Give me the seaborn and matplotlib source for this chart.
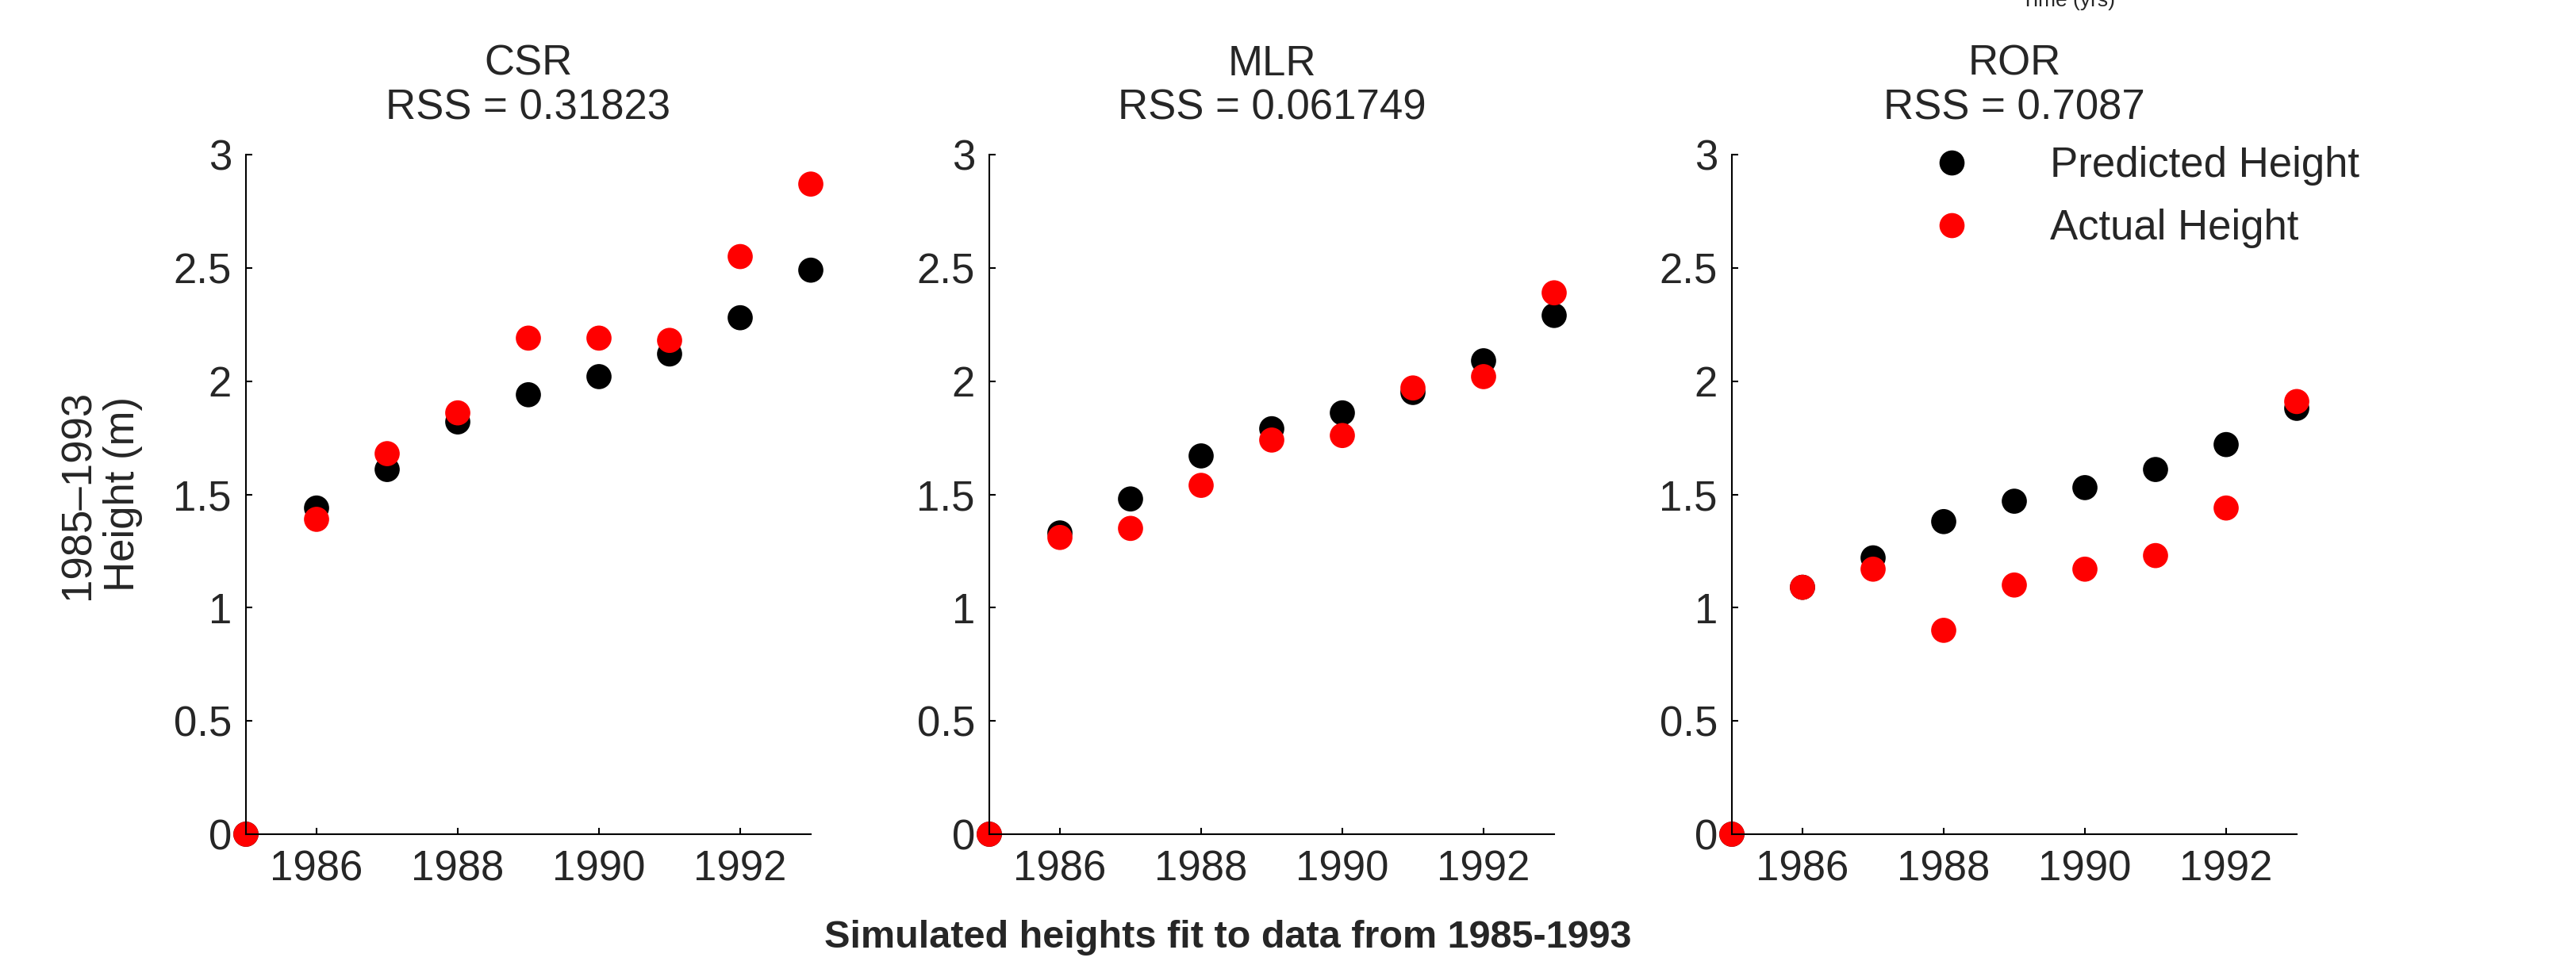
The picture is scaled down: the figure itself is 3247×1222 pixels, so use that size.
import numpy as np
import pandas as pd
import seaborn as sns
import matplotlib.pyplot as plt
from matplotlib import font_manager
from matplotlib.ticker import FuncFormatter
from matplotlib.lines import Line2D

years = [1985, 1986, 1987, 1988, 1989, 1990, 1991, 1992, 1993]
models = ["CSR", "MLR", "ROR"]
rss = ["0.31823", "0.061749", "0.7087"]

# predicted / actual heights (m) per model
csr_pred = [0.0, 1.44, 1.61, 1.82, 1.94, 2.02, 2.12, 2.28, 2.49]
csr_act = [0.0, 1.39, 1.68, 1.86, 2.19, 2.19, 2.18, 2.55, 2.87]
mlr_pred = [0.0, 1.33, 1.48, 1.67, 1.79, 1.86, 1.95, 2.09, 2.29]
mlr_act = [0.0, 1.31, 1.35, 1.54, 1.74, 1.76, 1.97, 2.02, 2.39]
ror_pred = [0.0, 1.09, 1.22, 1.38, 1.47, 1.53, 1.61, 1.72, 1.88]
ror_act = [0.0, 1.09, 1.17, 0.90, 1.10, 1.17, 1.23, 1.44, 1.91]

series_names = ["Predicted Height", "Actual Height"]
xticks = [1986, 1988, 1990, 1992]
yticks = [0, 0.5, 1, 1.5, 2, 2.5, 3]

sns.set_style("ticks")
plt.rcParams['font.family'] = ['Liberation Sans', 'DejaVu Sans']
plt.rcParams['axes.linewidth'] = 1.5

FS = 38
DOT = 520
W, H = 3247, 1222
fig = plt.figure(figsize=(W / 100, H / 100), dpi=100)

lefts = [310, 1247, 2183]
ax_w, ax_top, ax_bot = 712, 195, 1052
data = [(csr_pred, csr_act), (mlr_pred, mlr_act), (ror_pred, ror_act)]

axes = []
for i, (pred, act) in enumerate(data):
    ax = fig.add_axes([lefts[i] / W, 1 - ax_bot / H, ax_w / W, (ax_bot - ax_top) / H])
    df = pd.DataFrame({
        "year": years + years,
        "height": pred + act,
        "series": [series_names[0]] * len(years) + [series_names[1]] * len(years),
    })
    sns.scatterplot(data=df, x="year", y="height", hue="series",
                    palette={series_names[0]: "black", series_names[1]: "red"},
                    s=DOT, linewidth=0, ax=ax, legend=(i == 2), clip_on=False)
    ax.set_xlim(1985, 1993)
    ax.set_ylim(0, 3)
    ax.set_xticks(xticks)
    ax.set_yticks(yticks)
    ax.yaxis.set_major_formatter(FuncFormatter(lambda v, p: f"{v:g}"))
    ax.tick_params(direction="in", length=6, width=1.5, labelsize=FS, color="black")
    ax.tick_params(axis="y", pad=13)
    ax.tick_params(axis="x", pad=14)
    sns.despine(ax=ax)
    for sp in ax.spines.values():
        sp.set_color("black")
    ax.set_xlabel("")
    ax.set_ylabel("")
    ax.set_title(f"{models[i]}\nRSS = {rss[i]}", fontsize=FS, pad=32, linespacing=1.15)
    axes.append(ax)

axes[0].set_ylabel("1985\u20131993\nHeight (m)", fontsize=FS, labelpad=28, linespacing=1.15)

# legend in the last panel
leg = axes[2].get_legend()
handles = leg.legend_handles
labels = [t.get_text() for t in leg.get_texts()]
for h in handles:
    if isinstance(h, Line2D):
        h.set_markersize(np.sqrt(DOT))
        h.set_markeredgewidth(0)
    elif hasattr(h, "set_sizes"):
        h.set_sizes([DOT])
axes[2].legend(handles=handles, labels=labels, loc="upper left",
               bbox_to_anchor=(2434 / W, 1 - 184 / H), bbox_transform=fig.transFigure,
               frameon=False, fontsize=FS, handlelength=1.0, handletextpad=1.84,
               labelspacing=0.55, borderpad=0, borderaxespad=0)

# bottom caption, condensed bold if available
names = {f.name for f in font_manager.fontManager.ttflist}
if "Liberation Sans Narrow" in names:
    cap_family, cap_size = ["Liberation Sans Narrow", "Liberation Sans"], 41
else:
    cap_family, cap_size = ["Liberation Sans", "DejaVu Sans"], 35
fig.text(1548 / W, 1 - 1195 / H, "Simulated heights fit to data from 1985-1993",
         ha="center", va="baseline", fontsize=cap_size, fontweight="bold", family=cap_family)

# leftover label cut off at the top edge
fig.text(2607 / W, 1 - 8 / H, "Time (yrs)", ha="center", va="baseline", fontsize=19)

fig.savefig("out.png", dpi=100)
